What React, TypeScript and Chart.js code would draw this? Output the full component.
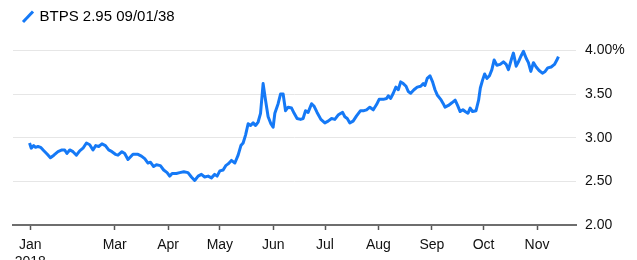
import { useEffect, useRef } from 'react';
import { Chart, registerables } from 'chart.js';

Chart.register(...registerables);

const seriesLabel = 'BTPS 2.95 09/01/38';

// day of year 2018 (0 = Jan 1)
const days = [
  9.6, 10.6, 12.0, 13.1, 14.5, 16.0, 17.9, 19.9, 21.7, 23.7, 26.1, 28.4, 30.0, 31.3, 32.9, 34.8, 36.8, 38.7, 40.6, 42.6,
  44.5, 46.4, 48.0, 49.7, 51.6, 53.6, 55.5, 57.4, 59.4, 60.9, 63.2, 64.8, 66.7,
  69.6, 72.5, 74.5, 76.4, 78.3, 79.7, 81.6, 83.2, 85.5, 87.4, 89.4, 90.9, 92.3, 94.8, 96.7, 99.1, 101.5, 103.5, 105.4,
  107.4, 109.3, 111.2, 113.2, 115.1, 117.0, 118.4, 120.0, 121.9, 123.4, 124.8, 126.7, 128.7, 130.6,
  132.2, 133.5, 134.9, 136.4, 137.8, 139.3, 140.7, 142.2, 143.6, 145.1, 146.5, 148.0, 149.6, 150.9, 151.9, 153.8, 155.2,
  156.7, 158.1, 159.6, 161.6, 163.1, 164.8, 166.8, 168.3, 169.7, 171.2, 173.2, 174.7, 176.4, 178.6, 180.9, 182.8, 184.8,
  186.7, 188.6, 190.2,
  191.2, 192.5, 193.9, 195.4, 197.3, 199.3, 201.6, 203.6, 205.1, 207.0, 209.0, 210.9, 212.4, 214.8, 216.7, 217.7, 219.1,
  220.6, 222.1, 223.5, 224.9, 226.4, 228.0, 229.3, 230.7, 232.6, 234.5, 236.5, 238.0, 239.0, 240.3, 241.9, 243.4, 244.8,
  246.1, 248.1, 249.6, 250.6,
  252.6, 254.6, 256.5, 257.9, 259.4, 261.0, 262.3, 263.9, 265.2, 266.6, 268.6, 270.1, 271.1, 272.4, 273.6, 274.9, 276.4,
  277.8, 279.1, 280.7, 282.6, 284.5, 286.1, 287.4, 289.0, 290.3, 291.9, 293.2, 294.8, 296.1, 297.7, 299.0, 300.4, 301.9,
  303.5, 305.2, 307.1, 308.7, 310.2, 312.2, 314.1, 315.5, 316.4,
];

// yield, %
const yields = [
  2.94, 2.88, 2.91, 2.89, 2.90, 2.89, 2.85, 2.81, 2.77, 2.80, 2.84, 2.86, 2.86, 2.82, 2.86, 2.84, 2.80, 2.85, 2.88, 2.94,
  2.92, 2.86, 2.91, 2.90, 2.93, 2.91, 2.86, 2.84, 2.81, 2.80, 2.84, 2.82, 2.75,
  2.81, 2.81, 2.79, 2.76, 2.71, 2.72, 2.67, 2.69, 2.68, 2.63, 2.60, 2.56, 2.59, 2.59, 2.60, 2.61, 2.60, 2.55, 2.51,
  2.56, 2.58, 2.55, 2.56, 2.54, 2.58, 2.56, 2.62, 2.63, 2.68, 2.70, 2.74, 2.71, 2.80,
  2.91, 2.94, 3.03, 3.16, 3.14, 3.17, 3.14, 3.18, 3.28, 3.62, 3.43, 3.24, 3.16, 3.12, 3.28, 3.39, 3.50,
  3.50, 3.31, 3.35, 3.34, 3.28, 3.22, 3.21, 3.22, 3.31, 3.29, 3.39, 3.36, 3.29, 3.21, 3.17, 3.19, 3.22,
  3.21, 3.26, 3.28,
  3.29, 3.24, 3.22, 3.17, 3.19, 3.25, 3.31, 3.31, 3.32, 3.35, 3.32, 3.38, 3.44, 3.44, 3.45, 3.48, 3.45,
  3.51, 3.58, 3.55, 3.64, 3.62, 3.59, 3.53, 3.51, 3.55, 3.58, 3.59, 3.62, 3.60, 3.68, 3.71, 3.64, 3.55,
  3.49, 3.44, 3.39, 3.35,
  3.37, 3.40, 3.43, 3.37, 3.30, 3.32, 3.30, 3.28, 3.34, 3.30, 3.31, 3.43, 3.57, 3.66, 3.73, 3.68, 3.71,
  3.78, 3.89, 3.83, 3.84, 3.87, 3.84, 3.78, 3.89, 3.97, 3.82, 3.87, 3.94, 3.99, 3.91, 3.86, 3.76, 3.86,
  3.81, 3.77, 3.74, 3.76, 3.80, 3.81, 3.84, 3.89, 3.93,
];

const xTickDays = [10, 59, 90, 120, 151, 181, 212, 243, 273, 304];
const xTickLabels: (string | string[])[] = [['Jan', '2018'], 'Mar', 'Apr', 'May', 'Jun', 'Jul', 'Aug', 'Sep', 'Oct', 'Nov'];
const yTickValues = [2, 2.5, 3, 3.5, 4];
const xRange = [0, 326.6];
const yRange = [2, 4.2];

const FONT = '"Liberation Sans", Arial, Helvetica, sans-serif';
const LINE_COLOR = '#1579f6';

const legendPlugin = {
  id: 'customLegend',
  afterDraw(chart: any) {
    const ctx = chart.ctx;
    const ds = chart.data.datasets[0];
    ctx.save();
    ctx.strokeStyle = ds.borderColor;
    ctx.lineWidth = 3;
    ctx.beginPath();
    ctx.moveTo(23, 22);
    ctx.lineTo(33, 11.5);
    ctx.stroke();
    ctx.fillStyle = '#000';
    ctx.font = '15px ' + FONT;
    ctx.textBaseline = 'middle';
    ctx.textAlign = 'left';
    ctx.fillText(ds.label, 39.5, 16.5);
    ctx.restore();
  },
};

export default function App() {
  const canvasRef = useRef<HTMLCanvasElement | null>(null);

  useEffect(() => {
    if (!canvasRef.current) return;
    const chart = new Chart(canvasRef.current, {
      type: 'line',
      data: {
        datasets: [
          {
            label: seriesLabel,
            data: days.map((d, i) => ({ x: d, y: yields[i] })),
            borderColor: LINE_COLOR,
            backgroundColor: LINE_COLOR,
            borderWidth: 3,
            pointRadius: 0,
            tension: 0,
            fill: false,
            borderJoinStyle: 'round',
          },
        ],
      },
      options: {
        animation: false,
        responsive: false,
        maintainAspectRatio: false,
        devicePixelRatio: 1,
        layout: { padding: { left: 13, top: 33, right: 0, bottom: 0 } },
        plugins: {
          legend: { display: false },
          tooltip: { enabled: false },
        },
        scales: {
          x: {
            type: 'linear',
            min: xRange[0],
            max: xRange[1],
            afterBuildTicks: (s: any) => {
              s.ticks = xTickDays.map((v) => ({ value: v }));
            },
            afterFit: (s: any) => {
              s.height = 35;
            },
            ticks: {
              autoSkip: false,
              maxRotation: 0,
              minRotation: 0,
              padding: 7,
              color: '#111',
              font: { size: 14, family: FONT },
              callback: (_v: any, i: number) => xTickLabels[i],
            },
            grid: {
              drawOnChartArea: false,
              drawTicks: true,
              tickLength: 5,
              tickWidth: 1.5,
              tickColor: '#555',
            },
            border: { display: true, color: '#6e6e6e', width: 2 },
          },
          y: {
            type: 'linear',
            position: 'right',
            min: yRange[0],
            max: yRange[1],
            afterBuildTicks: (s: any) => {
              s.ticks = yTickValues.map((v) => ({ value: v }));
            },
            afterFit: (s: any) => {
              s.width = 61;
            },
            ticks: {
              padding: 9,
              color: '#111',
              font: { size: 14, family: FONT },
              callback: (v: any) => (v === 4 ? Number(v).toFixed(2) + '%' : Number(v).toFixed(2)),
            },
            grid: {
              drawTicks: false,
              lineWidth: 1,
              color: (c: any) => (c.tick && c.tick.value === 2 ? 'rgba(0,0,0,0)' : '#e6e6e6'),
            },
            border: { display: false },
          },
        },
      },
      plugins: [legendPlugin],
    });
    return () => chart.destroy();
  }, []);

  return (
    <div style={{ position: 'absolute', left: 0, top: 0, width: 637, height: 260, background: '#fff' }}>
      <canvas ref={canvasRef} width={637} height={260} />
    </div>
  );
}
